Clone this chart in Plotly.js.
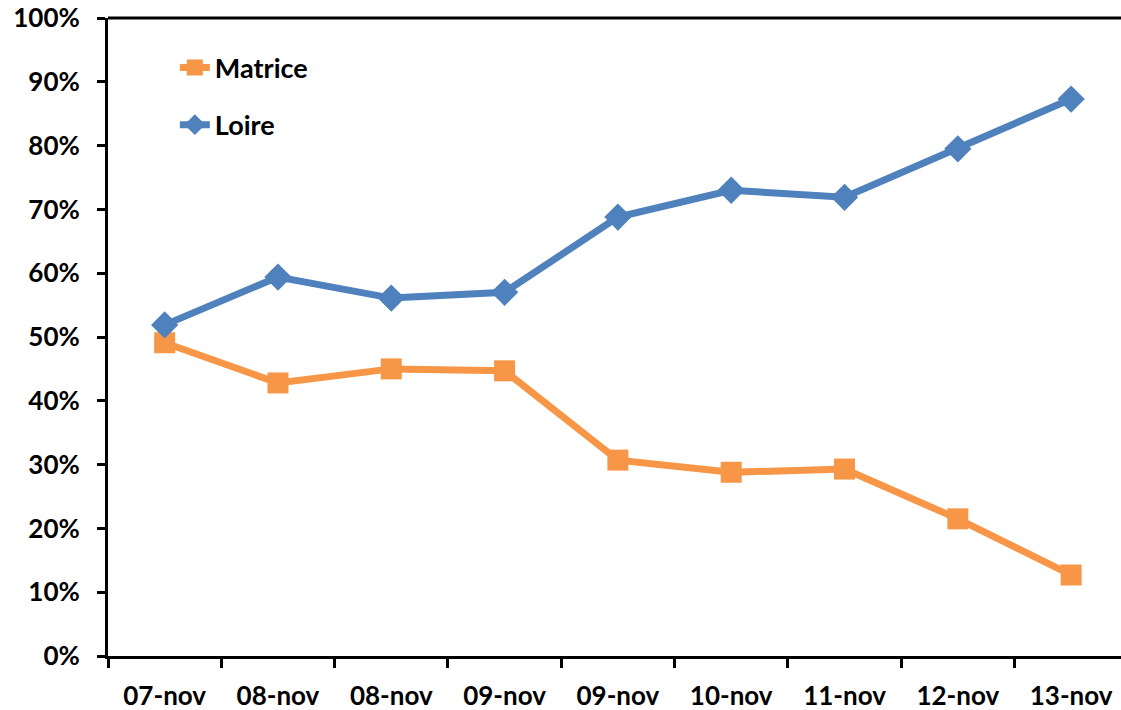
<!DOCTYPE html>
<html>
<head>
<meta charset="utf-8">
<script src="https://cdn.plot.ly/plotly-3.0.1.min.js"></script>
<style>html,body{margin:0;padding:0;background:#fff;}#chart{width:1121px;height:710px;}</style>
</head>
<body>
<div id="chart"></div>
<script>
const categories = ["07-nov","08-nov","08-nov","09-nov","09-nov","10-nov","11-nov","12-nov","13-nov"];
const matrice = [0.491,0.428,0.450,0.447,0.307,0.288,0.293,0.215,0.127];
const loire = [0.519,0.594,0.561,0.570,0.688,0.730,0.719,0.795,0.873];
const yTicks = [0,0.1,0.2,0.3,0.4,0.5,0.6,0.7,0.8,0.9,1.0];

const idx = categories.map((c,i)=>i);
const bounds = categories.map((c,i)=>i-0.5);
const FONT = "Lato, 'Open Sans', sans-serif";

const traces = [
  {x: idx, y: matrice, name: "Matrice", type: "scatter", mode: "lines+markers",
   line: {color: "#F79646", width: 7}, marker: {symbol: "square", size: 21, color: "#F79646"},
   legendgroup: "a"},
  {x: idx, y: loire, name: "Loire", type: "scatter", mode: "lines+markers",
   line: {color: "#4F81BD", width: 7}, marker: {symbol: "diamond", size: 21, color: "#4F81BD"},
   legendgroup: "b"},
  {x: [0], y: [0], xaxis: "x2", yaxis: "y", showlegend: false, hoverinfo: "skip",
   mode: "markers", marker: {opacity: 0}}
];

const layout = {
  width: 1121, height: 710,
  margin: {l: 108, r: 0, t: 18, b: 54},
  paper_bgcolor: "#fff", plot_bgcolor: "#fff",
  font: {family: FONT, size: 26, color: "#000", weight: "bold"},
  showlegend: true,
  legend: {x: 0.066, y: 0.96, xanchor: "left", yanchor: "top", bgcolor: "rgba(0,0,0,0)",
           font: {family: FONT, size: 27, color: "#000", weight: "bold"},
           traceorder: "grouped", tracegroupgap: 19},
  xaxis: {range: [-0.5, 8.44], tickvals: idx, ticktext: categories, ticks: "outside", ticklen: 11,
          tickcolor: "rgba(0,0,0,0)", showgrid: false, zeroline: false, showline: true,
          linecolor: "#000", linewidth: 3, ticklabelstandoff: 4,
          tickfont: {family: FONT, size: 26, weight: "bold"}, fixedrange: true},
  xaxis2: {overlaying: "x", anchor: "y", side: "bottom", range: [-0.5, 8.44], tickvals: bounds,
           ticks: "outside", ticklen: 11, tickwidth: 3, tickcolor: "#000", showticklabels: false,
           showgrid: false, zeroline: false, showline: false},
  yaxis: {range: [0, 1], tickvals: yTicks, tickformat: ".0%", ticks: "outside", ticklen: 8, tickwidth: 3,
          tickcolor: "#000", showgrid: false, zeroline: false, showline: true, linecolor: "#000", linewidth: 3,
          ticklabelstandoff: 12, tickfont: {family: FONT, size: 26, weight: "bold"}},
  shapes: [{type: "line", xref: "paper", yref: "paper", x0: 0, x1: 1, y0: 1, y1: 1,
            line: {color: "#000", width: 3}}]
};

Plotly.newPlot("chart", traces, layout, {displayModeBar: false, staticPlot: true});
</script>
</body>
</html>
